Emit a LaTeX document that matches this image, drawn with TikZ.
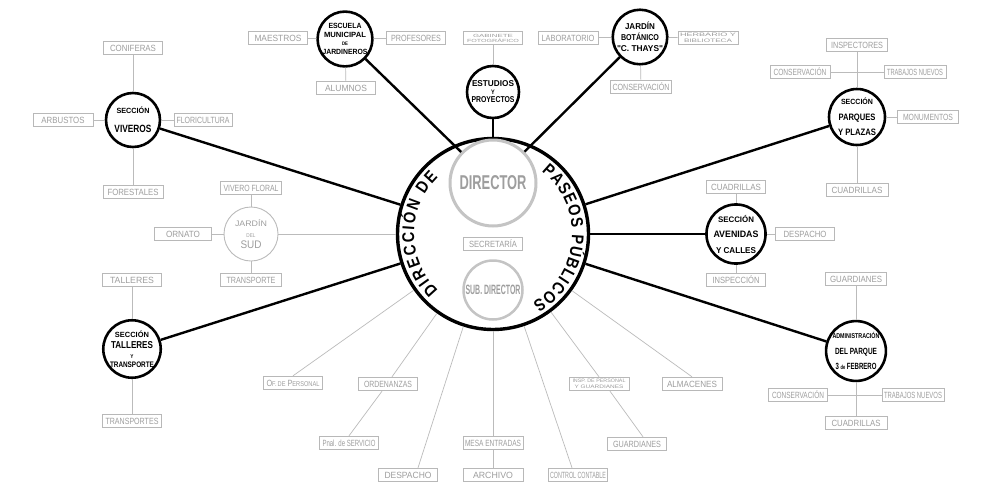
\documentclass[tikz,border=0pt]{standalone}
\usepackage{fontspec}
\usepackage{graphicx}
\setmainfont{Liberation Sans}
\newfontfamily\hand[FakeStretch=0.85]{Liberation Sans}
\usetikzlibrary{decorations.text}
\newcommand\fw[2]{\resizebox{#1pt}{\height}{#2}}
\definecolor{bxc}{HTML}{B8B8B8}
\definecolor{txc}{HTML}{9E9E9E}
\definecolor{lnc}{HTML}{BBBBBB}
\definecolor{dirc}{HTML}{C4C4C4}
\tikzset{
 gbox/.style={draw=bxc, line width=0.9pt, minimum width=59pt, minimum height=13.5pt, inner sep=0pt, text=txc, font=\hand\fontsize{9}{9}\selectfont},
 sec/.style={circle, draw=black, line width=2.6pt, inner sep=0pt, fill=white, text=black, align=center},
 blk/.style={line width=2.4pt, black},
 gln/.style={line width=0.7pt, lnc},
}
\begin{document}
\begin{tikzpicture}[x=1pt,y=-1pt]
\fill[white] (0,0) rectangle (1000,498);
\useasboundingbox (0,0) rectangle (1000,498);

% central
\node[circle, draw=black, line width=3.4pt, minimum size=191pt, inner sep=0pt] (main) at (493,234) {};
\node[circle, draw=dirc, line width=3pt, minimum size=86pt, inner sep=0pt, text=txc, font=\hand\bfseries\fontsize{20}{20}\selectfont] (dir) at (493,183) {\fw{67}{DIRECTOR}};
\node[gbox] (secr) at (493,244) {\fw{48}{SECRETARÍA}};
\node[circle, draw=dirc, line width=2.5pt, minimum size=59pt, inner sep=0pt, text=txc, font=\hand\bfseries\fontsize{13.5}{13.5}\selectfont] (sub) at (493,290) {\fw{55}{SUB. DIRECTOR}};

\begin{scope}[shift={(main.center)}, y=1pt]
\path[decorate, decoration={text along path, text align={fit to path}, text={|\hand\bfseries\fontsize{17}{17}\selectfont|DIRECCIÓN DE}}] (226:79) arc[start angle=226, end angle=134, radius=79];
\path[decorate, decoration={text along path, text align={fit to path}, text={|\hand\bfseries\fontsize{17}{17}\selectfont|PASEOS PÚBLICOS}}] (52:79) arc[start angle=52, end angle=-60, radius=79];
\end{scope}

% section circles
\node[sec, minimum size=48pt, font=\hand\bfseries\fontsize{7.5}{8.7}\selectfont] (escuela) at (345,39) {\fw{33}{ESCUELA}\\\fw{42}{MUNICIPAL}\\{\fontsize{5}{8.7}\selectfont DE}\\\fw{45}{JARDINEROS}};
\node[sec, minimum size=52pt, font=\hand\bfseries\fontsize{8.5}{8}\selectfont] (estudios) at (493,92) {\fw{42}{ESTUDIOS}\\{\fontsize{6.5}{8}\selectfont Y}\\\fw{43}{PROYECTOS}};
\node[sec, minimum size=52pt, font=\hand\bfseries\fontsize{8.5}{11}\selectfont] (botanico) at (640,37) {\fw{30}{JARDÍN}\\\fw{38}{BOTÁNICO}\\\fw{46}{"C. THAYS"}};
\node[sec, minimum size=54pt, font=\hand\bfseries\fontsize{10.5}{19}\selectfont] (viveros) at (133,120) {{\fontsize{7.5}{19}\selectfont\fw{33}{SECCIÓN}}\\\fw{37}{VIVEROS}};
\node[sec, minimum size=56pt, font=\hand\bfseries\fontsize{9.3}{15.5}\selectfont] (parques) at (857,117) {{\fontsize{7.5}{15.5}\selectfont\fw{32}{SECCIÓN}}\\\fw{37}{PARQUES}\\\fw{38}{Y PLAZAS}};
\node[sec, minimum size=54pt, font=\hand\bfseries\fontsize{9.3}{15.5}\selectfont] (avenidas) at (736,234) {{\fontsize{8}{15.5}\selectfont\fw{36}{SECCIÓN}}\\\fw{45}{AVENIDAS}\\{\fontsize{8.5}{15.5}\selectfont\fw{40}{Y CALLES}}};
\node[sec, minimum size=54pt, font=\hand\bfseries\fontsize{10}{9.5}\selectfont] (talleres) at (132,349) {{\fontsize{7.5}{9.5}\selectfont\fw{34}{SECCIÓN}}\\[2pt]\fw{42}{TALLERES}\\{\fontsize{5.5}{9.5}\selectfont Y}\\{\fontsize{8}{9.5}\selectfont\fw{44}{TRANSPORTE}}};
\node[sec, minimum size=56pt, font=\hand\bfseries\fontsize{9}{15.5}\selectfont] (admin) at (856,351) {{\fontsize{7}{15.5}\selectfont\fw{47}{ADMINISTRACIÓN}}\\\fw{42}{DEL PARQUE}\\\fw{41}{3 {\fontsize{6}{15.5}\selectfont de} FEBRERO}};
\node[circle, draw=lnc, line width=0.9pt, minimum size=54pt, inner sep=0pt, fill=white, text=txc, align=center, font=\hand\fontsize{8}{11}\selectfont] (sud) at (251,234) {\fw{32}{JARDÍN}\\{\fontsize{5.5}{11}\selectfont DEL}\\{\fontsize{11}{11}\selectfont\fw{21}{SUD}}};

% boxes: escuela
\node[gbox] (maes) at (278,38) {\fw{47}{MAESTROS}};
\node[gbox] (prof) at (416,38) {\fw{50}{PROFESORES}};
\node[gbox] (alum) at (346,88) {\fw{42}{ALUMNOS}};
% estudios
\node[gbox, align=center, font=\hand\fontsize{4.5}{5}\selectfont] (gab) at (493,38) {\fw{40}{GABINETE}\\\fw{52}{FOTOGRÁFICO}};
% botanico
\node[gbox, minimum width=60pt] (lab) at (568,38) {\fw{53}{LABORATORIO}};
\node[gbox, minimum width=60pt, align=center, font=\hand\fontsize{5}{5.5}\selectfont] (herb) at (708,38) {\fw{56}{HERBARIO Y}\\\fw{48}{BIBLIOTECA}};
\node[gbox, minimum width=61pt] (consb) at (641,87) {\fw{57}{CONSERVACIÓN}};
% viveros
\node[gbox] (conif) at (133,48) {\fw{46}{CONIFERAS}};
\node[gbox, minimum width=60pt] (arbus) at (63,120) {\fw{43}{ARBUSTOS}};
\node[gbox, minimum width=58pt] (flori) at (203,120) {\fw{53}{FLORICULTURA}};
\node[gbox, minimum width=60pt] (fores) at (133,192) {\fw{51}{FORESTALES}};
% sud
\node[gbox, minimum width=61pt] (vivf) at (251,188) {\fw{55}{VIVERO FLORAL}};
\node[gbox, minimum width=57pt] (ornato) at (183,234) {\fw{34}{ORNATO}};
\node[gbox, minimum width=61pt] (transp) at (251,280) {\fw{49}{TRANSPORTE}};
% talleres
\node[gbox] (tall) at (132,280) {\fw{44}{TALLERES}};
\node[gbox] (transps) at (132,421) {\fw{53}{TRANSPORTES}};
% parques
\node[gbox, minimum width=61pt] (insp) at (857,45) {\fw{52}{INSPECTORES}};
\node[gbox, minimum width=60pt] (consp) at (800,72) {\fw{53}{CONSERVACIÓN}};
\node[gbox, minimum width=62pt] (trabp) at (915,72) {\fw{56}{TRABAJOS NUEVOS}};
\node[gbox, minimum width=61pt] (monu) at (928,117) {\fw{50}{MONUMENTOS}};
\node[gbox, minimum width=62pt] (cuadp) at (857,190) {\fw{51}{CUADRILLAS}};
% avenidas
\node[gbox] (cuada) at (736,187) {\fw{50}{CUADRILLAS}};
\node[gbox] (despa) at (805,234) {\fw{43}{DESPACHO}};
\node[gbox] (inspa) at (736,280) {\fw{47}{INSPECCIÓN}};
% admin
\node[gbox, minimum width=61pt] (guard) at (856,279) {\fw{52}{GUARDIANES}};
\node[gbox] (consa) at (798,395) {\fw{52}{CONSERVACIÓN}};
\node[gbox, minimum width=62pt] (traba) at (913,395) {\fw{58}{TRABAJOS NUEVOS}};
\node[gbox, minimum width=62pt] (cuadad) at (856,423) {\fw{49}{CUADRILLAS}};
% bottom
\node[gbox] (ofp) at (293,383) {\fw{53}{O{\fontsize{7}{9}\selectfont F.\,DE} P{\fontsize{7}{9}\selectfont ERSONAL}}};
\node[gbox] (orde) at (388,384) {\fw{48}{ORDENANZAS}};
\node[gbox] (pnal) at (349,443) {\fw{53}{Pnal. de SERVICIO}};
\node[gbox] (despb) at (408,475) {\fw{47}{DESPACHO}};
\node[gbox, minimum width=60pt] (mesa) at (493,443) {\fw{56}{MESA ENTRADAS}};
\node[gbox, minimum width=60pt] (arch) at (493,475) {\fw{40}{ARCHIVO}};
\node[gbox] (cont) at (578,475) {\fw{56}{CONTROL CONTABLE}};
\node[gbox, minimum width=60pt, align=center, font=\hand\fontsize{5}{5.5}\selectfont] (inspp) at (599,384) {\fw{53}{INSP. DE PERSONAL}\\\fw{49}{Y GUARDIANES}};
\node[gbox] (guardb) at (637,444) {\fw{48}{GUARDIANES}};
\node[gbox, minimum width=60pt] (alma) at (692,384) {\fw{50}{ALMACENES}};

% black connectors
\draw[blk] (dir) -- (escuela);
\draw[blk] (dir) -- (botanico);
\draw[blk] (main) -- (estudios);
\draw[blk] (main) -- (viveros);
\draw[blk] (main) -- (talleres);
\draw[blk] (main) -- (parques);
\draw[blk] (main) -- (avenidas);
\draw[blk] (main) -- (admin);

% gray connectors
\draw[gln] (maes) -- (escuela);
\draw[gln] (prof) -- (escuela);
\draw[gln] (alum) -- (escuela);
\draw[gln] (gab) -- (estudios);
\draw[gln] (lab) -- (botanico);
\draw[gln] (herb) -- (botanico);
\draw[gln] (consb) -- (botanico);
\draw[gln] (conif) -- (viveros);
\draw[gln] (arbus) -- (viveros);
\draw[gln] (flori) -- (viveros);
\draw[gln] (fores) -- (viveros);
\draw[gln] (vivf) -- (sud);
\draw[gln] (ornato) -- (sud);
\draw[gln] (transp) -- (sud);
\draw[gln] (sud) -- (main);
\draw[gln] (tall) -- (talleres);
\draw[gln] (transps) -- (talleres);
\draw[gln] (insp) -- (parques);
\draw[gln] (consp) -- (trabp);
\draw[gln] (monu) -- (parques);
\draw[gln] (cuadp) -- (parques);
\draw[gln] (cuada) -- (avenidas);
\draw[gln] (despa) -- (avenidas);
\draw[gln] (inspa) -- (avenidas);
\draw[gln] (guard) -- (admin);
\draw[gln] (consa) -- (traba);
\draw[gln] (admin) -- (cuadad);
\draw[gln] (main) -- (ofp.north);
\draw[gln] (main) -- ([xshift=4pt]orde.north);
\draw[gln] ([xshift=-6pt]orde.south) -- (pnal.north);
\draw[gln] (main) -- ([xshift=10pt]despb.north);
\draw[gln] (main) -- (mesa);
\draw[gln] (mesa) -- (arch);
\draw[gln] (main) -- ([xshift=-6pt]cont.north);
\draw[gln] (main) -- (inspp.north);
\draw[gln] ([xshift=11pt]inspp.south) -- ([xshift=6pt]guardb.north);
\draw[gln] (main) -- (alma.north);
\end{tikzpicture}
\end{document}
